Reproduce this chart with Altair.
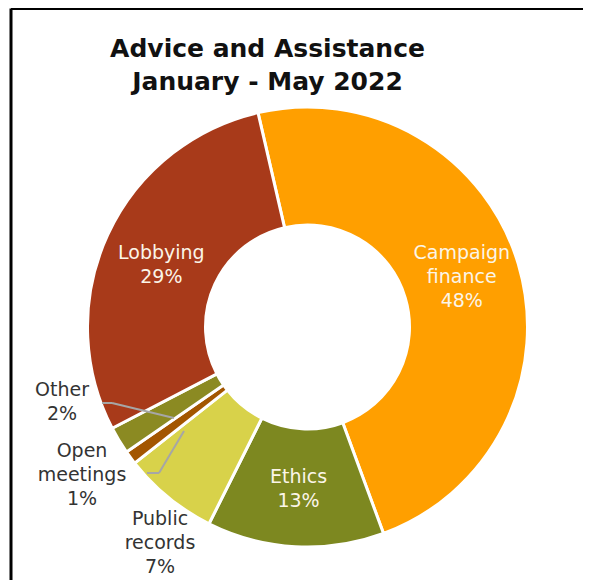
import altair as alt
import pandas as pd

categories = ["Campaign finance", "Ethics", "Public records", "Open meetings", "Other", "Lobbying"]
values = [48, 13, 7, 1, 2, 29]
label_names = ["Campaign\nfinance", "Ethics", "Public\nrecords", "Open\nmeetings", "Other", "Lobbying"]
colors = ["#FF9F00", "#7D8820", "#D8D24A", "#A35600", "#8B8A22", "#A83A1A"]
title_lines = ["Advice and Assistance", "January - May 2022"]

df = pd.DataFrame({
    "category": categories,
    "value": values,
    "order": list(range(len(categories))),
    "name": label_names,
})
df["lab"] = df["name"] + "\n" + df["value"].astype(str) + "%"

CX, CY = 299.5, 319
start = -0.227
theta_scale = alt.Scale(range=[start, start + 6.283185307])
color_scale = alt.Scale(domain=categories, range=colors)
FONT = "DejaVu Sans"

base = alt.Chart(df).encode(
    theta=alt.Theta("value:Q", stack=True, scale=theta_scale),
    order=alt.Order("order:Q"),
)

arcs = base.mark_arc(innerRadius=102, outerRadius=220, stroke="white", strokeWidth=3).encode(
    color=alt.Color("category:N", scale=color_scale, legend=None),
    x=alt.value(CX), y=alt.value(CY),
)


def inner_label(cat, dy):
    return base.transform_calculate(
        t=f"datum.category == '{cat}' ? datum.lab : ''"
    ).mark_text(
        radius=161, dy=dy, font=FONT, fontSize=19, color="#FBF5E8",
        lineBreak="\n", lineHeight=24, baseline="middle", align="center",
    ).encode(text="t:N", x=alt.value(CX), y=alt.value(CY))


inner_layers = [
    inner_label("Campaign finance", -28),
    inner_label("Ethics", -11),
    inner_label("Lobbying", -6),
]


def outer_label(cat, x, y):
    return alt.Chart(df).transform_filter(alt.datum.category == cat).mark_text(
        font=FONT, fontSize=19, color="#333333", lineBreak="\n",
        lineHeight=24, baseline="middle", align="center",
    ).encode(text="lab:N", x=alt.value(x), y=alt.value(y))


outer_layers = [
    outer_label("Other", 54, 382),
    outer_label("Open meetings", 74, 443),
    outer_label("Public records", 152, 511),
]


def seg(x1, y1, x2, y2, color="#A6A6A6", w=2):
    return alt.Chart(df).transform_filter(alt.datum.order == 0).mark_rule(
        color=color, strokeWidth=w
    ).encode(x=alt.value(x1), y=alt.value(y1), x2=alt.value(x2), y2=alt.value(y2))


leaders = [
    seg(94, 395, 104, 395), seg(104, 395, 166, 410),
    seg(139, 465, 151, 465), seg(151, 465, 176, 423),
]

frame = [
    seg(3, 0.5, 600, 0.5, color="black", w=3),
    seg(3, 0.5, 3, 600, color="black", w=3),
]

title_df = pd.DataFrame({"t": title_lines, "i": [0, 1]})


def title_line(i, y):
    return alt.Chart(title_df).transform_filter(alt.datum.i == i).mark_text(
        font=FONT, fontSize=25, fontWeight="bold", color="#111111",
        baseline="alphabetic", align="center",
    ).encode(text="t:N", x=alt.value(259.5), y=alt.value(y))


chart = alt.layer(
    arcs, *inner_layers, *outer_layers, *leaders, *frame, title_line(0, 49), title_line(1, 82)
).properties(
    width=575, height=572, autosize=alt.AutoSizeParams(type="none"), padding=0,
    background="white",
).configure_view(stroke=None)

chart.save("out.html", embed_options={"renderer": "svg", "actions": False})
